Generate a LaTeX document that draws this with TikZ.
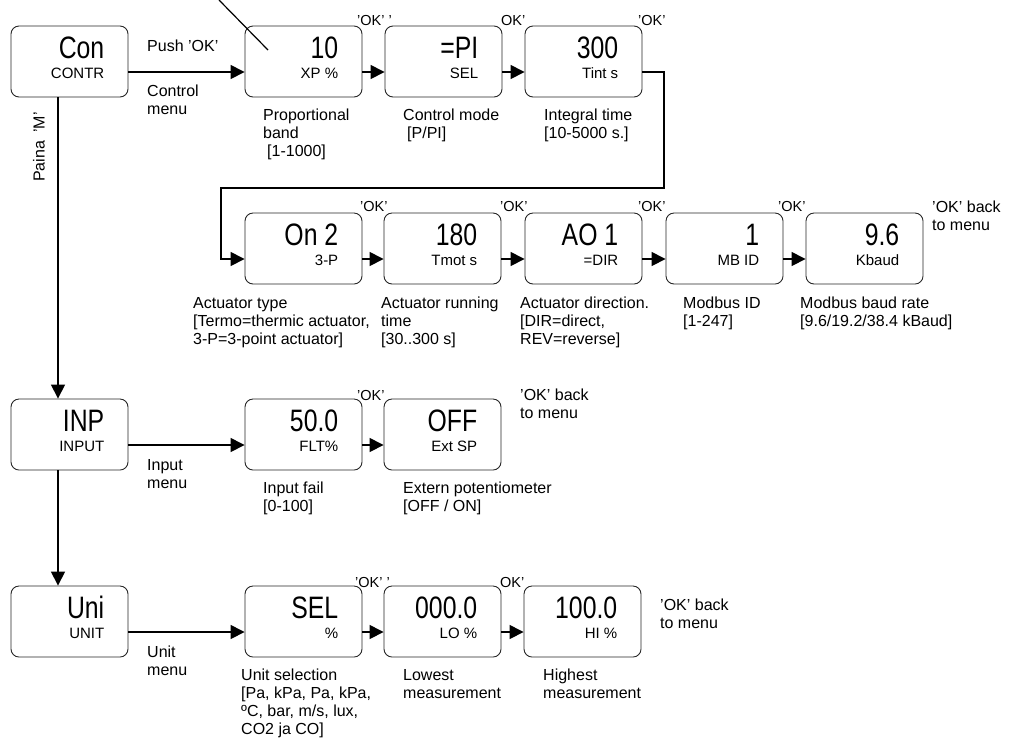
\documentclass[tikz,border=0pt]{standalone}
\usepackage{fontspec}
\usepackage{graphicx}
\setmainfont{Liberation Sans}
\usetikzlibrary{arrows.meta,calc}
\tikzset{
  dbx/.style={draw=black!85, line width=0.9pt, rounded corners=8pt, minimum width=117pt, minimum height=71pt, inner sep=0pt},
  bigtxt/.style={anchor=base east, inner sep=0pt, font=\fontsize{31}{31}\selectfont},
  smalltxt/.style={anchor=base east, inner sep=0pt, font=\fontsize{15}{17}\selectfont},
  lab/.style={anchor=north west, inner sep=0pt, align=left, font=\fontsize{16}{18}\selectfont},
  oklab/.style={anchor=west, inner sep=0pt, font=\fontsize{14.5}{16}\selectfont},
  arr/.style={line width=1.5pt, -{Triangle[length=14pt,width=14pt]}},
  conn/.style={line width=1.5pt},
}
\newcommand\dispbox[5]{%
  \node[dbx] (#1) at (#2+58.5,#3+35.5) {};
  \node[bigtxt] (#1-v) at ([xshift=-24pt,yshift=-33pt]#1.north east) {\scalebox{0.8}[1]{#4}};
  \node[smalltxt] (#1-u) at ([xshift=-24pt,yshift=-53pt]#1.north east) {#5};
}
\begin{document}
\begin{tikzpicture}[x=1pt,y=-1pt]
\useasboundingbox (0,0) rectangle (1011,740);
% row 1
\dispbox{con}{11}{26}{Con}{CONTR}
\dispbox{xp}{245}{26}{10}{XP \%}
\dispbox{sel}{385}{26}{=PI}{SEL}
\dispbox{tint}{525}{26}{300}{Tint s}
% row 2
\dispbox{on}{245}{213}{On 2}{3-P}
\dispbox{tmot}{384}{213}{180}{Tmot s}
\dispbox{ao}{525}{213}{AO 1}{=DIR}
\dispbox{mb}{666}{213}{1}{MB ID}
\dispbox{kb}{806}{213}{9.6}{Kbaud}
% input row
\dispbox{inp}{11}{399}{INP}{INPUT}
\dispbox{flt}{245}{399}{50.0}{FLT\%}
\dispbox{ext}{384}{399}{OFF}{Ext SP}
% unit row
\dispbox{uni}{11}{586}{Uni}{UNIT}
\dispbox{usel}{245}{586}{SEL}{\%}
\dispbox{lo}{384}{586}{000.0}{LO \%}
\dispbox{hi}{524}{586}{100.0}{HI \%}

% connectors
\draw[arr] ([yshift=-10.5pt]con.east) -- ([yshift=-10.5pt]xp.west);
\draw[arr] ([yshift=-10.5pt]xp.east) -- ([yshift=-10.5pt]sel.west);
\draw[arr] ([yshift=-10.5pt]sel.east) -- ([yshift=-10.5pt]tint.west);
\coordinate (b1) at (664,188);
\coordinate (b2) at (221,188);
\draw[arr] ([yshift=-10.5pt]tint.east) -| (b1) -- (b2) |- ([yshift=-10.5pt]on.west);
\draw[arr] ([yshift=-10.5pt]on.east) -- ([yshift=-10.5pt]tmot.west);
\draw[arr] ([yshift=-10.5pt]tmot.east) -- ([yshift=-10.5pt]ao.west);
\draw[arr] ([yshift=-10.5pt]ao.east) -- ([yshift=-10.5pt]mb.west);
\draw[arr] ([yshift=-10.5pt]mb.east) -- ([yshift=-10.5pt]kb.west);
\draw[arr] ([xshift=-11.5pt]con.south) -- ([xshift=-11.5pt]inp.north);
\draw[arr] ([yshift=-10.5pt]inp.east) -- ([yshift=-10.5pt]flt.west);
\draw[arr] ([yshift=-10.5pt]flt.east) -- ([yshift=-10.5pt]ext.west);
\draw[arr] ([xshift=-11.5pt]inp.south) -- ([xshift=-11.5pt]uni.north);
\draw[arr] ([yshift=-10.5pt]uni.east) -- ([yshift=-10.5pt]usel.west);
\draw[arr] ([yshift=-10.5pt]usel.east) -- ([yshift=-10.5pt]lo.west);
\draw[arr] ([yshift=-10.5pt]lo.east) -- ([yshift=-10.5pt]hi.west);

% diagonal stroke
\coordinate (d1) at (219,0);
\coordinate (d2) at (268,50);
\draw[line width=1.2pt] (d1) -- (d2);

% rotated label
\node[rotate=90, inner sep=0pt, font=\fontsize{16}{18}\selectfont] (paina) at (39,147) {Paina\hspace{4pt} 'M'};

% labels
\node[lab] (push) at (147,40) {Push 'OK'};
\node[lab] (ctrlmenu) at (147,85) {Control\\menu};
\node[lab] (propband) at (263,109) {Proportional\\band\\\hspace{4pt}[1-1000]};
\node[lab] (ctrlmode) at (403,109) {Control mode\\\hspace{4pt}[P/PI]};
\node[lab] (inttime) at (544,109) {Integral time\\{}[10-5000 s.]};
\node[lab] (acttype) at (193,297) {Actuator type\\{}[Termo=thermic actuator,\\3-P=3-point actuator]};
\node[lab] (actrun) at (381,297) {Actuator running\\time\\{}[30..300 s]};
\node[lab] (actdir) at (520,297) {Actuator direction.\\{}[DIR=direct,\\REV=reverse]};
\node[lab] (mbid) at (683,297) {Modbus ID\\{}[1-247]};
\node[lab] (mbbaud) at (800,297) {Modbus baud rate\\{}[9.6/19.2/38.4 kBaud]};
\node[lab] (back1) at (932,201) {'OK' back\\to menu};
\node[lab] (inpmenu) at (147,459) {Input\\menu};
\node[lab] (inpfail) at (263,482) {Input fail\\{}[0-100]};
\node[lab] (extpot) at (403,482) {Extern potentiometer\\{}[OFF / ON]};
\node[lab] (back2) at (520,389) {'OK' back\\to menu};
\node[lab] (unitmenu) at (147,646) {Unit\\menu};
\node[lab] (unitsel) at (241,669) {Unit selection\\{}[Pa, kPa, Pa, kPa,\\ºC, bar, m/s, lux,\\CO2 ja CO]};
\node[lab] (lowest) at (403,669) {Lowest\\measurement};
\node[lab] (highest) at (543,669) {Highest\\measurement};
\node[lab] (back3) at (660,599) {'OK' back\\to menu};

% OK labels
\node[oklab] (ok1) at (357,21) {'OK' '};
\node[oklab] (ok2) at (501,21) {OK'};
\node[oklab] (ok3) at (638,21) {'OK'};
\node[oklab] (ok4) at (360,207) {'OK'};
\node[oklab] (ok5) at (500,207) {'OK'};
\node[oklab] (ok6) at (638,207) {'OK'};
\node[oklab] (ok7) at (778,207) {'OK'};
\node[oklab] (ok8) at (357,395) {'OK'};
\node[oklab] (ok9) at (355,582) {'OK' '};
\node[oklab] (ok10) at (500,582) {OK'};
\end{tikzpicture}
\end{document}
